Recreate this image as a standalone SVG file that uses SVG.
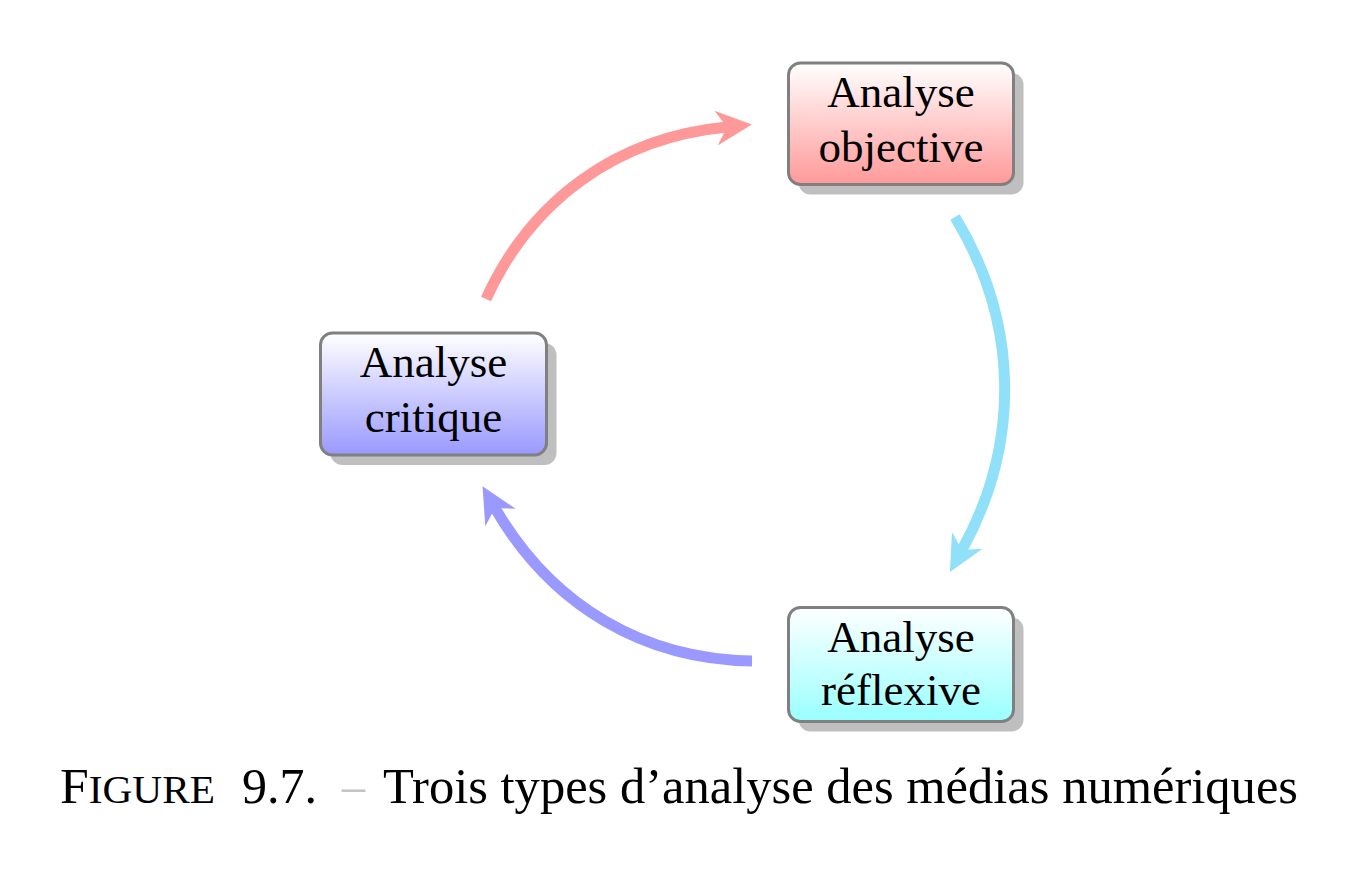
<svg xmlns="http://www.w3.org/2000/svg" width="1360" height="878" viewBox="0 0 1360 878">
<style>
.box{stroke:#808080;stroke-width:3}
.shadow{fill:#bfbfbf}
.lbl{font-family:"Liberation Serif","Times New Roman",serif;font-size:45px;fill:#000;text-anchor:middle}
.cap{font-family:"Liberation Serif","Times New Roman",serif;font-size:50px;fill:#000}
.dash{fill:#c4c4c4}
.arc{fill:none;stroke-width:11;stroke-linecap:butt}
</style>
<defs>
<linearGradient id="gRed" x1="0" y1="0" x2="0" y2="1"><stop offset="0" stop-color="#ffffff"/><stop offset="1" stop-color="#ff9999"/></linearGradient>
<linearGradient id="gBlue" x1="0" y1="0" x2="0" y2="1"><stop offset="0" stop-color="#ffffff"/><stop offset="1" stop-color="#9999ff"/></linearGradient>
<linearGradient id="gCyan" x1="0" y1="0" x2="0" y2="1"><stop offset="0" stop-color="#ffffff"/><stop offset="1" stop-color="#99ffff"/></linearGradient>
<marker id="mRed" markerUnits="userSpaceOnUse" orient="auto" markerWidth="50" markerHeight="50" viewBox="-15 -25 50 50" refX="0" refY="0" overflow="visible"><path d="M25,0 L-11,-17.5 L0,0 L-11,17.5 Z" fill="#ff9999"/></marker>
<marker id="mBlue" markerUnits="userSpaceOnUse" orient="auto" markerWidth="50" markerHeight="50" viewBox="-15 -25 50 50" refX="0" refY="0" overflow="visible"><path d="M25,0 L-11,-17.5 L0,0 L-11,17.5 Z" fill="#9999ff"/></marker>
<marker id="mCyan" markerUnits="userSpaceOnUse" orient="auto" markerWidth="50" markerHeight="50" viewBox="-15 -25 50 50" refX="0" refY="0" overflow="visible"><path d="M25,0 L-11,-17.5 L0,0 L-11,17.5 Z" fill="#8fe0f8"/></marker>
</defs>
<rect width="1360" height="878" fill="#ffffff"/>
<g id="connectors">
<path class="arc" stroke="#ff9999" d="M486,299 C531.6,198.9 617.5,137.5 727,127" marker-end="url(#mRed)"/>
<path class="arc" stroke="#8fe0f8" d="M955,217 C1018.7,322.2 1021.3,442.3 962,550" marker-end="url(#mCyan)"/>
<path class="arc" stroke="#9999ff" d="M752,661 C645,659.5 552,607 495,508" marker-end="url(#mBlue)"/>
</g>
<g id="node-objective">
<rect class="shadow" x="798.5" y="73" width="225" height="121.5" rx="12"/>
<rect class="box" x="788.5" y="63" width="225" height="121.5" rx="12" fill="url(#gRed)"/>
<text class="lbl" x="901" y="107">Analyse</text>
<text class="lbl" x="901" y="162">objective</text>
</g>
<g id="node-critique">
<rect class="shadow" x="330.5" y="343" width="226" height="122" rx="12"/>
<rect class="box" x="320.5" y="333" width="226" height="122" rx="12" fill="url(#gBlue)"/>
<text class="lbl" x="433.5" y="377">Analyse</text>
<text class="lbl" x="433.5" y="432">critique</text>
</g>
<g id="node-reflexive">
<rect class="shadow" x="798.5" y="617.5" width="225" height="114" rx="12"/>
<rect class="box" x="788.5" y="607.5" width="225" height="114" rx="12" fill="url(#gCyan)"/>
<text class="lbl" x="901" y="652">Analyse</text>
<text class="lbl" x="901" y="705">réflexive</text>
</g>
<g id="caption">
<text class="cap" x="60" y="803" textLength="155" lengthAdjust="spacingAndGlyphs">F<tspan font-size="40">IGURE</tspan></text>
<text class="cap" x="242" y="803" textLength="75" lengthAdjust="spacingAndGlyphs">9.7.</text>
<text class="cap dash" x="342" y="803" textLength="23" lengthAdjust="spacingAndGlyphs">–</text>
<text class="cap" x="383" y="803" textLength="915" lengthAdjust="spacingAndGlyphs">Trois types d’analyse des médias numériques</text>
</g>
</svg>
